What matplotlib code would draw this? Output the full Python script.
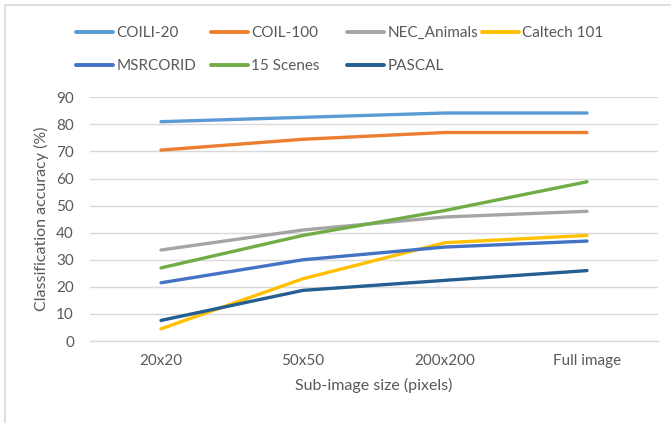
import matplotlib
matplotlib.use("Agg")
import matplotlib.pyplot as plt
from matplotlib.lines import Line2D
from matplotlib.patches import Rectangle

# Sub-image sizes on the x axis
sizes = ["20x20", "50x50", "200x200", "Full image"]

# Classification accuracy (%) per dataset
coil20 = [81.0, 82.6, 84.2, 84.2]
coil100 = [70.5, 74.5, 77.0, 77.0]
nec_animals = [33.6, 41.0, 45.8, 47.9]
caltech101 = [4.5, 23.0, 36.3, 39.0]
msrcorid = [21.5, 30.0, 34.7, 36.9]
scenes15 = [27.0, 39.0, 48.2, 58.8]
pascal = [7.6, 18.7, 22.4, 26.0]

series_names = ["COILI-20", "COIL-100", "NEC_Animals", "Caltech 101",
                "MSRCORID", "15 Scenes", "PASCAL"]
series_values = [coil20, coil100, nec_animals, caltech101,
                 msrcorid, scenes15, pascal]
colors = ["#5B9BD5", "#ED7D31", "#A5A5A5", "#FFC000",
          "#4472C4", "#70AD47", "#255E91"]

yticks = list(range(0, 91, 10))

plt.rcParams["font.family"] = ["Lato", "DejaVu Sans"]
text_color = "#595959"
fs = 11

W, H = 671, 423
fig = plt.figure(figsize=(W / 100, H / 100), dpi=100)

# chart area frame (light grey)
fig.patches.append(Rectangle((5 / W, -0.1), 1.2, (H - 5) / H + 0.1,
                             transform=fig.transFigure, fill=False,
                             edgecolor="#D9D9D9", linewidth=1.2))

ax = fig.add_axes([90 / W, 1 - 341 / H, (658 - 90) / W, (341 - 97.3) / H])

x = list(range(len(sizes)))
for name, vals, c in zip(series_names, series_values, colors):
    ax.plot(x, vals, color=c, linewidth=2.4, solid_capstyle="round",
            solid_joinstyle="round", label=name, zorder=3)

ax.set_xlim(-0.5, len(sizes) - 0.5)
ax.set_ylim(0, 90)
ax.set_yticks(yticks)
ax.set_xticks(x)
ax.set_xticklabels(sizes)
ax.grid(axis="y", color="#D9D9D9", linewidth=1.0)
ax.set_axisbelow(True)
for s in ["top", "right", "left"]:
    ax.spines[s].set_visible(False)
ax.spines["bottom"].set_color("#D9D9D9")
ax.spines["bottom"].set_linewidth(1.0)
ax.tick_params(axis="both", length=0, labelsize=fs, colors=text_color)
ax.tick_params(axis="y", pad=11.5)
ax.tick_params(axis="x", pad=9.5)

ax.set_ylabel("Classification accuracy (%)", fontsize=fs + 0.5,
              color=text_color, labelpad=5)
ax.set_xlabel("Sub-image size (pixels)", fontsize=fs + 0.5,
              color=text_color, labelpad=7)

# legend laid out in fixed-width columns, two rows
col_x = [76, 211, 347, 482]
columns = [[0, 4], [1, 5], [2, 6], [3]]
for cx, idx in zip(col_x, columns):
    handles = [Line2D([], [], color=colors[i], linewidth=2.8,
                      solid_capstyle="round") for i in idx]
    labels = [series_names[i] for i in idx]
    fig.legend(handles, labels, loc="upper left",
               bbox_to_anchor=(cx / W, 1 - 26 / H), frameon=False,
               fontsize=fs, handlelength=2.45, handletextpad=0.2,
               labelspacing=1.25, borderpad=0, borderaxespad=0,
               labelcolor=text_color)

fig.savefig("out.png", dpi=100)
